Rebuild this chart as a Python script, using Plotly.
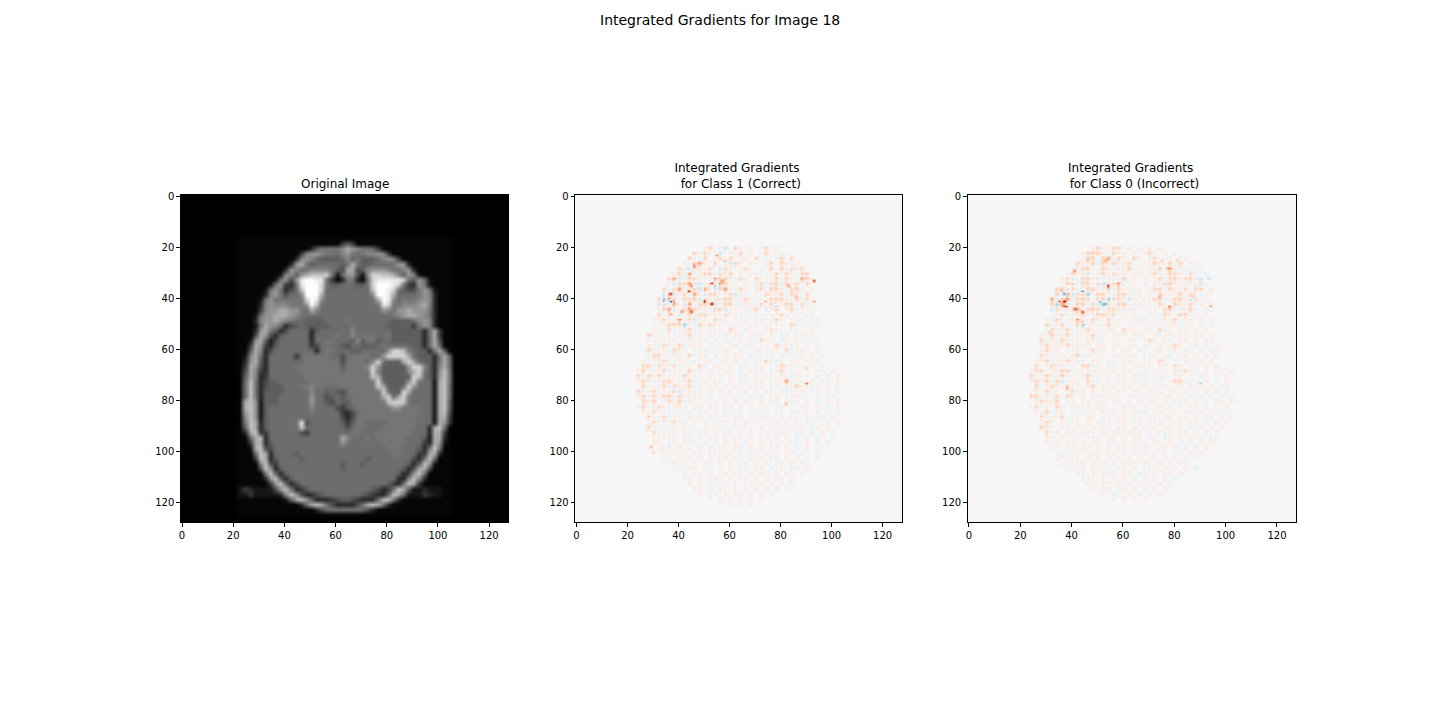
import numpy as np
import plotly.graph_objects as go

FIG_TITLE = "Integrated Gradients for Image 18"
PANEL_TITLES = ["Original Image",
                "Integrated Gradients<br>\u00a0\u00a0for Class 1 (Correct)",
                "Integrated Gradients<br>\u00a0\u00a0for Class 0 (Incorrect)"]
TICKS = [0, 20, 40, 60, 80, 100, 120]

GREY_LEVELS = [0, 8, 30, 50, 70, 90, 108, 124, 133, 150, 165, 185, 205, 220, 240, 255]
MRI_FIRST_ROW = 8
MRI_ROWS = [
"1",
"11111111111111111111464",
"1111111111111136888" "89ba9" "8874",
"111111111111" "49aa988" "79a8789" "9a94",
"11111111111" "39a976666" "796866" "679a94",
"1111111111" "3ab8677777" "68b8667777" "8aa3",
"111111111" "3a97899998" "65bb569aaa" "98" "79a3",
"11111111" "2996abcccd" "827aa529dd" "ccb96a92",
"1111111" "28a5aeffee" "841388317d" "eeeeed76a7" "2",
"111111" "28a438efff" "d866777668" "dfffed843a" "82",
"11111" "28a8357cff" "fd77777777" "7cffed8655" "8a82",
"11111" "39a85779ff" "fb77777777" "79ffeb7777" "8a93",
"1111" "28a888888d" "fe97777777" "777bfe9788" "89a93",
"1111" "39a999888a" "fc77777777" "7778ed8899" "9ab93",
"1111" "49aabbaa87" "b977777777" "7777a98aab" "aaa83",
"111" "28aabbba98" "7777777777" "777777789a" "bba983",
"111" "39aaba9877" "6666777787" "7777777666" "679a93",
"111" "28ba973567" "6666677778" "7777776666" "648a93",
"111" "3ab8635777" "7367777779" "7777777666" "66637b4",
"111" "5ba5367777" "7377778779" "7888778666" "66637b4",
"11" "2ab6257777" "7737788777" "6968867766" "666637b5",
"11" "4ba4367777" "7745787765" "7766678777" "776637b7",
"11" "6b93577777" "7773788777" "6677777add" "c876638b61",
"1" "29b7377777" "4788888775" "7888877add" "ddb76663" "8b6",
"1" "3ab6377777" "7788888885" "888879d766" "6bdb766" "38b7",
"1" "4ba5377777" "7888888886" "88889da666" "66add96" "39b7",
"1" "5b94377777" "7888888887" "88888d9666" "669bd86" "3ac8",
"1" "6b93477777" "7788888888" "88888cb666" "666dc76" "3ac8",
"1" "7c83566777" "7778888888" "888888d766" "66ad877" "2bc8",
"1" "7c83566677" "7889887778" "888888cb66" "68da777" "2bc7",
"1" "7c83666677" "7779776765" "7888888d86" "6db7777" "2bc7",
"1" "7c83666777" "777a775676" "7888888bd7" "bd87777" "2bc7",
"1" "bca2666777" "777a876576" "68888888cd" "dc87777" "2bc6",
"1" "bca2677777" "7779777754" "678888888a" "a888877" "2bc6",
"1" "aca2677777" "7778777774" "3578888888" "8888877" "2bc5",
"1" "9ca2677777" "7777777775" "3588888888" "8888777" "2bb4",
"1" "8cb3677777" "8e57777776" "4688777788" "8888777" "2ba4",
"1" "6cb3677777" "7c77777777" "5788777888" "8888773" "bc71",
"1" "3bc4477777" "7547777777" "7887778888" "8887773" "bb41",
"1" "17bc377777" "777777777b" "9777878888" "8877762" "bb31",
"1" "14bb367777" "777777777a" "8777777888" "8877743" "ba21",
"1" "12bc557777" "7777777777" "7777777788" "8777638" "c811",
"1" "117cb37777" "6777777777" "7777777778" "877744b" "b311",
"1" "114cb36777" "7677777777" "7777677777" "777538c" "7111",
"1" "1119c54777" "7777777776" "7776777777" "77636ca" "2111",
"1" "1115ca3677" "7777777776" "7777777777" "7635bb5" "1111",
"1" "11118c7367" "7777777777" "7777777777" "634ac71" "1111",
"1" "11113ac636" "8777777777" "7777777777" "339c931" "1111",
"1" "111114ac73" "5777777777" "7777777764" "38cb411" "1111",
"2" "4322225ac8" "3467777777" "7777765348" "cb62232" "2211",
"2" "242222239c" "a533567777" "777654337c" "b722243" "2211",
"1" "1111111126" "bca6333456" "6543337cc8" "3111111" "1111",
"1" "1111111111" "137bcb8533" "3358bcb731" "1111111" "1111",
"1" "1111111111" "1111357888" "8887531111" "1111111" "1111",
"1",
]

# Signed speckle, one character per 2x2 pixels, rows start at y=20, columns at x=24
SPECKLE_LEVELS = {".": 0.0, "a": 0.09, "b": 0.28, "c": 0.5, "A": -0.09, "B": -0.22, "C": -0.42}
SPECKLE_FIRST_ROW = 10
SPECKLE_FIRST_COL = 12
CLASS1_ROWS = [
".............ab.AB.ba.a.Ab.a............",
"...........babAaB.aAb.a.ab.aAa..........",
"..........bAAb.abAb.aa.b.AaAb.b.........",
".........aAbcaAb.aBba.aA.ab.baAa........",
"........bABbaab.Bba.aba.Aab.bAbab.......",
".......abAcAabbAbab.a.aAaAab.baAbb......",
"......bcBAbbaaAcbbaAba.baAabAbaAcb......",
"......aBbbcBBabAcbaa.a.abAbbAbabAb......",
".....bAbcAabBcaBbcAaba.abAbbaAbbA.a.....",
".....BcBabAcaBbbAabBaA.aAbaabAbaAb......",
"....bCcbAbbbBbacabbAaba.aAbbbaAbAb......",
"....BbAcaBcAbbbBabbAAaaAbAbaabbAbA......",
"....abcBabcbaaAbbBaa.Aab.Aab.abAa.a.....",
"....bAbaBabAbbaaAbaaAaAaAaAabA.a.Aa.....",
"...aabAacAbBaaAbAa.aAa.aAaabA.aAa.aA....",
"...AaabbbCaAbabaa.aAa.aa.AaAa.baAa.A....",
"...aaAbAAabAa.aAa.ba.Aa.aAbaA.aAa.a.....",
"..bAa.aAaabAa.a.Aa.aA.aAa.a.Aa.AaaA.....",
"..AaaAaa.AaaaA.a.Aa.a.aAbaa.Aa.aAa.a....",
"..aaAbaabAaaa.aAa.aa.Aa.Aa.baaAa.A.a....",
"..bAaaAbaa.AaAa.aaA.Aa.aaAaa.bAaaa.A....",
"..AbbAaaa.bAaa.A.a.aa.A.aAa.AAa.a.a.a...",
".aAaabaAaaAa.aa.Aa.a.A.aAbAAa.Aa.a.A....",
".bbAbaabAaa.bA.aa.a.Aa.Aa.AabaaAa.a.A...",
"abAaabAaa.bAa.a.aAa.A.aAa.Aab.Aa.a.Aa.a.",
"bAbabAaaAbaaA.a.a.a.Aa.aAaa.aaAaAa.a.A.a",
"abaAabbaaabAaa.aA.a.aA.aa.AaacAaa.a.Aa.a",
".bAaabAbaabAa.Aa.a.Aa.aAa.Aa.Aab.aAa.a.A",
"baabAaabBaaAa.a.a.a.Aa.a.Aa.AAa.a.Aa.A.a",
"abAbabbAbaaAa.a.Aa.aA.aAa.aa.AaaAa.a.Aa.",
".bab.AbabAaa.aAa.a.a.Aa.a.Aa.aAa.a.A.a.a",
"abAabaAaaa.Aa.Aa.aA.a.a.Aa.Aa.a.Aa.a.A.a",
".aabAaAa.Aa.Aa.a.Aa.a.Aa.a.Aa.Aa.a.A.a.A",
"..bAabAaa.aAa.Aa.a.aA.a.aAa.a.aA.a.aA.a.",
"..abAaabAa.a.Aa.aA.a.aAa.a.aAa.a.Aa.aA.a",
"..bAa.Aa.aAa.a.aAa.a.Aa.a.aAa.a.a.Aa.a..",
"...bAaaa.Aa.Aa.a.aA.a.a.Aa.aAa.Aa.A.a.A.",
"...aaAaa.aA.a.Aa.a.aA.a.aA.a.a.A.a.Aa.a.",
"...aa.Aa.aAa.a.A.a.a.Aa.a.aAa.aA.a.A.a..",
"....aaAaa.a.A.a.aa.aA.a.a.aA.a.A.a.aA...",
".....a.aAa.aa.aAa.a.a.Aa.a.a.aa.Aa.a....",
".....Aa.aaA.a.a.aa.aA.a.a.Aa.a.a.A.a....",
"......aaAa.a.Aa.a.a.aA.a.a.Aa.a.Aa......",
".......Aa.aa.aA.a.a.Aa.aa.A.a.aA.a......",
".........a.Aa.a.aa.Aa.a.aA.a.Aa.a.......",
".........Aa.a.aAa.a.aA.a.a.aA.a.........",
"..........a.a.Aa.a.a.Aa.a.a.A.a.........",
"...........Aa.a.Aa.a.a.A.a.a.a..........",
"............a.Aa.a.aA.a.a.A.............",
"..............A.a.a.a.A.a.a.............",
"................a.A.a.a.................",
]
CLASS0_ROWS = [
"............ab.abb.a.a.a.a..............",
"..........abbbaAbaa.a.aba.a.a...........",
"..........AbbAbcAba.ba.ab.Aa.Aa.........",
".........baabAbabaabA.aabaabAb.Aa.......",
"........aAbbAabaAaabaa.aabAcaaAaAa......",
".......AbaaBaabAbaa.aa.abAabbaAbA.A.....",
"......abBAbbaBaaAabAa.a.abAbbabbABaA....",
"......abbAbbAbBabcAaa.a.aAbbaaAaaBA.....",
".....bbBbAabbaAbAbaaAa.abbAbaabAbb.a....",
".....bAcBbbCabbAabbAaa.aAbaAabAbaAa.....",
"....cBbcAbbbAbbCbbaBa.aabbAabbaBbAa.....",
"....bCcBabbAbBCbAbbaAa.aAbaAbaabAa.a....",
"....BbAaacAbbbAbbaaAa.aAa.bbAaabA.aA....",
"....aAbAaabAabbabAa.a.aAaAbaabbAa.a.....",
"...AabAaacAaba.bAa.aaAa.aAaabAaa.a.a....",
"...bAabAabCaaAabaa.Aa.aa.aAaaAaa.a.A....",
"...AbaabAaabAa.aa.baa.aa.bAa.aa.a.a.....",
"..aabAabAa.abAa.aAa.aaA.aAaaAaa.aa.a....",
"..bAaabAaa.aaAa.aa.aa.aba.aA.aa.a.Aa....",
"..abaaabaAaa.aa.aa.Aa.Aa.a.aba.aA.a.a...",
"..Abaa.Aaa.abAa.a.aa.Aa.aa.aa.Aa.a.Aa...",
"..baAaa.abAa.aa.Aa.aa.aAa.aA.aa.a.a.A...",
".aabAaabaAa.aa.aa.aAa.aa.ba.A.aa.a.a....",
".bAabaaAa.bbAa.Aa.a.aaAa.aa.ba.Aa.a.A...",
"abbAaabbAa.aa.aAa.aa.Aa.aAa.aabAa.a.Aa.a",
"bAabaabAa.abAa.a.aa.aAa.aAa.aa.a.Aa.a.a.",
"ababAbBaaa.bAa.a.aa.aAa.aA.abbAa.aa.A.a.",
".bAabaabAa.ab.aAa.aa.aa.aAa.Aa.aAa.a.Aa.",
"aaabAa.abAa.a.aa.Aa.aa.aAa.aa.aAa.a.a.A.",
"bbAaabAba.a.aAa.aa.Aa.aAa.aa.a.aAa.A.a.a",
".abaab.Aa.aa.aa.Aa.a.a.Aa.a.aAa.a.a.Aa.a",
"abAa.ba.aaAa.aa.a.aAa.aa.aAa.a.aa.A.a.a.",
".aabAaa.aAa.a.aAa.a.aAa.aa.aa.Aa.a.a.Aa.",
"..bAaabAaa.aa.Aa.aa.aa.Aa.aa.aa.a.Aa.a.a",
"..aba.aaAa.a.aAa.aa.Aa.aAa.aAa.aa.a.A.a.",
"..baa.Aa.aa.a.aa.Aa.a.aAa.aa.a.A.a.a.a..",
"...bAa.aa.aAa.a.aa.aAa.a.aAa.Aa.a.A.a...",
"...aa.a.Aa.aAa.aa.a.aa.Aa.Aa.a.a.a.Aa...",
"...aAa.aa.a.aa.Aa.a.aAa.aa.a.A.a.a.a....",
"....aa.Aa.aa.a.a.aA.a.aa.Aa.a.a.A.a.....",
".....Aa.aa.aAa.aa.a.aAa.a.a.Aa.a.a......",
".....aa.Aa.a.a.aAa.a.a.aA.a.a.A.a.......",
"......Aa.aa.aAa.a.aaA.aa.a.a.Aa.........",
".......aaAa.aa.a.Aa.a.aAa.a.a.a.A.......",
".........Aa.a.aAa.aa.Aa.a.Aa.a..........",
"..........aAa.a.a.a.A.a.a.a.A...........",
"...........Aa.aa.aAa.aAa.a.a............",
"............a.aa.Aa.a.a.a.A.............",
"..............a.Aa.a.A.a.a..............",
"................a.a.a.a.................",
]

# Strongest attribution spots: image column, image row, value
CLASS1_SPOT_X = [37, 37, 34, 38, 44, 45, 50, 53, 53, 57, 46, 55, 58, 41, 45, 37, 93, 83, 86, 74, 93, 78, 54, 54, 90, 90, 38, 82, 29, 30]
CLASS1_SPOT_Y = [38, 41, 41, 41, 37, 35, 41, 42, 34, 33, 27, 23, 25, 45, 45, 46, 33, 35, 39, 41, 41, 43, 35, 40, 73, 67, 75, 81, 98, 100]
CLASS1_SPOT_V = [0.8, -1.0, -0.5, 0.5, 0.9, 0.6, 1.0, 1.0, 0.8, 0.5, 0.6, 0.5, 0.4, 0.6, 0.7, 0.4, 0.8, 0.5, 0.4, 0.5, 0.5, -0.4, -0.4, -0.3, 0.7, 0.3, -0.3, 0.4, 0.4, 0.3]
CLASS0_SPOT_X = [37, 37, 35, 37, 38, 44, 54, 53, 51, 53, 41, 44, 41, 78, 94, 90, 38, 36, 74, 87, 93, 77, 81, 75, 53, 46, 44, 31]
CLASS0_SPOT_Y = [41, 38, 41, 43, 43, 37, 35, 34, 41, 42, 44, 45, 29, 43, 43, 73, 75, 37, 39, 39, 32, 28, 25, 25, 25, 25, 49, 53]
CLASS0_SPOT_V = [1.0, -0.7, 0.8, 0.7, 0.6, -0.7, 0.9, -0.3, -0.6, -0.6, 0.7, 0.8, 0.6, 0.6, 0.5, -0.4, 0.5, 0.4, 0.4, 0.3, -0.3, 0.4, 0.4, 0.35, 0.4, 0.4, 0.4, 0.3]

RDBU_R = ["#053061", "#2166ac", "#4393c3", "#92c5de", "#d1e5f0", "#f6f6f6",
          "#fddbc7", "#f4a582", "#d6604d", "#b2182b", "#67001f"]
COLORSCALE = [[i / 10, c] for i, c in enumerate(RDBU_R)]


def mri_grid():
    grid = np.zeros((64, 64))
    for r, row in enumerate(MRI_ROWS):
        row = row[:42].ljust(42, "1")
        for c, ch in enumerate(row):
            grid[MRI_FIRST_ROW + r, 11 + c] = GREY_LEVELS[int(ch, 16)]
    return grid


def attribution_grid(rows, xs, ys, vs):
    grid = np.zeros((128, 128))
    for r, row in enumerate(rows):
        for c, ch in enumerate(row):
            y = 2 * (SPECKLE_FIRST_ROW + r)
            x = 2 * (SPECKLE_FIRST_COL + c)
            grid[y, x] = SPECKLE_LEVELS[ch]
            grid[y, x + 1] = SPECKLE_LEVELS[ch] * 0.5
            grid[y + 1, x] = SPECKLE_LEVELS[ch] * 0.5
    for x, y, v in zip(xs, ys, vs):
        grid[y, x] = v
    return grid


fig = go.Figure()
PAGE_DX, PAGE_DY = 9, 10  # the browser page's own margin
PANEL_LEFT = [180 - PAGE_DX, 575 - PAGE_DX, 968 - PAGE_DX]
PANEL_RIGHT = [508 - PAGE_DX, 902 - PAGE_DX, 1297 - PAGE_DX]
PANEL_TOP, PANEL_BOTTOM = 194 - PAGE_DY, 523 - PAGE_DY
W, H = 1440, 720

fig.add_trace(go.Heatmap(z=mri_grid(), x0=0.5, dx=2, y0=0.5, dy=2, zmin=0, zmax=255,
                         colorscale="Gray", showscale=False, zsmooth="best",
                         xaxis="x", yaxis="y", hoverinfo="skip"))
fig.add_trace(go.Heatmap(z=attribution_grid(CLASS1_ROWS, CLASS1_SPOT_X, CLASS1_SPOT_Y, CLASS1_SPOT_V),
                         x0=0, dx=1, y0=0, dy=1, zmin=-1, zmax=1, colorscale=COLORSCALE,
                         showscale=False, zsmooth="best", xaxis="x2", yaxis="y2", hoverinfo="skip"))
fig.add_trace(go.Heatmap(z=attribution_grid(CLASS0_ROWS, CLASS0_SPOT_X, CLASS0_SPOT_Y, CLASS0_SPOT_V),
                         x0=0, dx=1, y0=0, dy=1, zmin=-1, zmax=1, colorscale=COLORSCALE,
                         showscale=False, zsmooth="best", xaxis="x3", yaxis="y3", hoverinfo="skip"))

axis_style = dict(tickmode="array", tickvals=TICKS, ticks="outside", ticklen=3.5,
                  tickwidth=1, tickcolor="black", showgrid=False, zeroline=False,
                  showline=True, linecolor="black", linewidth=1, mirror=True,
                  tickfont=dict(family="DejaVu Sans", size=10, color="black"))
layout = dict(width=W, height=H, margin=dict(l=0, r=0, t=0, b=0), autosize=False,
              paper_bgcolor="white", plot_bgcolor="white", showlegend=False)
annotations = [dict(text=FIG_TITLE, x=(720 - PAGE_DX) / W, y=1 - 8 / H, xref="paper", yref="paper",
                    xanchor="center", yanchor="middle", showarrow=False,
                    font=dict(family="DejaVu Sans", size=14, color="black"))]
for i in range(3):
    sfx = "" if i == 0 else str(i + 1)
    xa = dict(axis_style, range=[-0.5, 127.5],
              domain=[PANEL_LEFT[i] / W, PANEL_RIGHT[i] / W], anchor="y" + sfx)
    ya = dict(axis_style, range=[127.5, -0.5],
              domain=[1 - PANEL_BOTTOM / H, 1 - PANEL_TOP / H], anchor="x" + sfx)
    layout["xaxis" + sfx] = xa
    layout["yaxis" + sfx] = ya
    annotations.append(dict(text=PANEL_TITLES[i], x=((PANEL_LEFT[i] + PANEL_RIGHT[i]) / 2 - (0 if i == 0 else 1)) / W,
                            y=1 - (PANEL_TOP - 2) / H, xref="paper", yref="paper",
                            xanchor="center", yanchor="bottom", showarrow=False, align="center",
                            font=dict(family="DejaVu Sans", size=12, color="black")))
layout["annotations"] = annotations
fig.update_layout(**layout)
fig.write_html("out.html")
